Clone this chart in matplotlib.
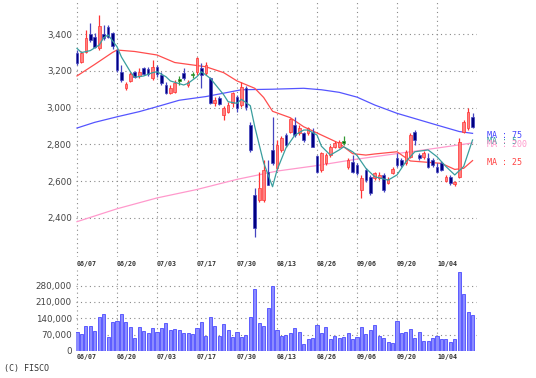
import matplotlib
matplotlib.use("Agg")
import matplotlib.pyplot as plt
from matplotlib import transforms

# daily candles, 90 trading days from 06/07
opens = [3297, 3248, 3302, 3400, 3384, 3324, 3400, 3438, 3405, 3313,
         3193, 3107, 3144, 3193, 3172, 3215, 3210, 3161, 3221, 3177,
         3123, 3079, 3085, 3150, 3188, 3123, 3180, 3193, 3215, 3188,
         3161, 3025, 3052, 2960, 2976, 3025, 3057, 3014, 3107, 2905,
         2525, 2498, 2498, 2650, 2770, 2672, 2770, 2851, 2867, 2905,
         2862, 2862, 2862, 2867, 2737, 2661, 2699, 2742, 2786, 2786,
         2815, 2677, 2704, 2688, 2552, 2661, 2623, 2617, 2617, 2634,
         2590, 2644, 2726, 2715, 2699, 2731, 2867, 2742, 2731, 2726,
         2715, 2677, 2699, 2601, 2623, 2585, 2623, 2867, 2889, 2949]
highs = [3313, 3305, 3422, 3460, 3405, 3503, 3449, 3449, 3411, 3318,
         3232, 3139, 3193, 3199, 3215, 3221, 3221, 3259, 3232, 3193,
         3139, 3123, 3150, 3170, 3215, 3150, 3195, 3275, 3242, 3248,
         3166, 3057, 3063, 3009, 3030, 3085, 3068, 3139, 3118, 2922,
         2563, 2650, 2715, 2715, 2949, 2824, 2846, 2862, 2943, 2949,
         2905, 2867, 2895, 2889, 2742, 2759, 2753, 2797, 2818, 2824,
         2846, 2726, 2742, 2699, 2634, 2672, 2634, 2650, 2650, 2644,
         2623, 2677, 2753, 2726, 2770, 2862, 2878, 2753, 2764, 2753,
         2726, 2699, 2710, 2634, 2634, 2601, 2835, 2933, 2998, 2970]
lows = [3232, 3240, 3297, 3356, 3324, 3313, 3367, 3378, 3318, 3193,
        3139, 3096, 3139, 3161, 3161, 3177, 3172, 3150, 3166, 3123,
        3074, 3074, 3080, 3125, 3150, 3112, 3160, 3177, 3107, 3177,
        3020, 3009, 3014, 2933, 2970, 3003, 2976, 3003, 2987, 2759,
        2297, 2487, 2487, 2579, 2688, 2660, 2759, 2786, 2862, 2840,
        2851, 2813, 2851, 2786, 2644, 2650, 2688, 2731, 2780, 2780,
        2797, 2666, 2644, 2634, 2509, 2595, 2525, 2606, 2606, 2541,
        2585, 2640, 2677, 2677, 2688, 2726, 2797, 2715, 2720, 2672,
        2677, 2644, 2655, 2595, 2579, 2574, 2617, 2862, 2878, 2889]
closes = [3242, 3297, 3378, 3367, 3330, 3443, 3378, 3384, 3335, 3204,
          3150, 3128, 3183, 3166, 3193, 3183, 3183, 3221, 3183, 3134,
          3079, 3107, 3134, 3150, 3161, 3139, 3180, 3270, 3177, 3232,
          3025, 3041, 3020, 2998, 3014, 3079, 2998, 3112, 3003, 2770,
          2346, 2563, 2661, 2579, 2699, 2797, 2835, 2797, 2938, 2851,
          2889, 2824, 2889, 2786, 2650, 2753, 2742, 2786, 2808, 2813,
          2815, 2715, 2650, 2644, 2617, 2606, 2536, 2644, 2634, 2552,
          2612, 2666, 2688, 2688, 2759, 2851, 2824, 2726, 2753, 2677,
          2688, 2650, 2661, 2623, 2590, 2596, 2813, 2922, 2976, 2894]
volumes = [82900, 73000, 108700, 108700, 87200, 144700, 157600, 58800, 125800, 130100,
           157600, 125800, 104400, 54500, 104400, 85900, 75900, 100100, 82900, 97400,
           118900, 90200, 94500, 90200, 75900, 75900, 73000, 97400, 125800, 64400,
           144700, 108700, 64400, 115900, 90200, 58800, 82900, 58800, 68700, 147300,
           266200, 118900, 108700, 183300, 279100, 90200, 64400, 68700, 75900, 97400,
           82900, 30000, 50200, 54500, 111600, 75900, 101700, 50200, 64400, 54500,
           58800, 75900, 50200, 58800, 104400, 73000, 90200, 111600, 64400, 54500,
           37300, 33000, 128800, 78600, 82900, 94500, 57100, 82900, 44200, 44200,
           54500, 64400, 50200, 50200, 37300, 50200, 340500, 244700, 168800, 154600]

date_pos = [0, 9, 18, 27, 36, 45, 54, 63, 72, 81]
date_labels = ["06/07", "06/20", "07/03", "07/17", "07/30",
               "08/13", "08/26", "09/06", "09/20", "10/04"]

# moving averages (day index, value)
ma5_x = [0, 1, 3, 5, 6, 7, 9, 10, 12, 13, 15, 17, 18, 20, 21, 24, 25, 27, 28, 30,
         33, 34, 36, 37, 39, 40, 42, 44, 45, 47, 49, 51, 52, 54, 55, 57, 59, 60, 62,
         63, 65, 67, 70, 72, 74, 76, 79, 81, 83, 85, 87, 88, 89]
ma5_y = [3322, 3299, 3310, 3340, 3380, 3395, 3331, 3275, 3195, 3165, 3172, 3190, 3195,
         3168, 3145, 3123, 3132, 3168, 3195, 3159, 3070, 3032, 3023, 3045, 3010, 2896,
         2700, 2570, 2660, 2780, 2850, 2878, 2878, 2851, 2790, 2742, 2770, 2787, 2760,
         2740, 2670, 2624, 2606, 2634, 2706, 2760, 2770, 2733, 2680, 2634, 2680, 2752, 2824]
ma25_x = [0, 4, 8, 9, 13, 18, 22, 29, 33, 36, 40, 42, 44, 48, 51, 55, 59, 62, 65, 67,
          72, 75, 82, 85, 87, 89]
ma25_y = [3172, 3235, 3300, 3313, 3305, 3286, 3245, 3222, 3190, 3145, 3105, 3055, 2980,
          2945, 2896, 2851, 2806, 2750, 2742, 2748, 2760, 2710, 2697, 2664, 2670, 2712]
ma75_x = [0, 4, 9, 14, 18, 23, 29, 37, 44, 51, 55, 59, 63, 67, 72, 81, 86, 89]
ma75_y = [2889, 2920, 2950, 2978, 3005, 3040, 3060, 3097, 3100, 3105, 3097, 3083, 3057,
          3014, 2969, 2905, 2870, 2860]
ma200_x = [0, 9, 18, 27, 36, 45, 54, 63, 72, 81, 89]
ma200_y = [2380, 2450, 2509, 2555, 2610, 2655, 2685, 2720, 2750, 2780, 2808]

price_ticks = [2400, 2600, 2800, 3000, 3200, 3400]
vol_ticks = [0, 70000, 140000, 210000, 280000]

W, H = 536, 378
fig = plt.figure(figsize=(W / 100, H / 100), dpi=100)
ax = fig.add_axes([76 / W, 1 - 257 / H, 401 / W, 255 / H])
axv = fig.add_axes([76 / W, 1 - 351 / H, 401 / W, 81 / H])

grid_kw = dict(color="#8a8a8a", linestyle=(0, (1, 3)), linewidth=0.8)
lab_col = "#444444"

# price panel
ax.set_xlim(-0.225, 90)
ax.set_ylim(2188, 3574)
ax.set_xticks(date_pos)
ax.set_yticks(price_ticks)
ax.set_yticklabels([f"{v:,}" for v in price_ticks])
ax.grid(True, **grid_kw)
ax.set_axisbelow(True)
ax.tick_params(length=0, labelsize=6.3, colors=lab_col, labelbottom=False, pad=3)
for s in ax.spines.values():
    s.set_visible(False)

ax.plot(ma200_x, ma200_y, color="#ff99cc", lw=0.9, zorder=2)
ax.plot(ma75_x, ma75_y, color="#5555ff", lw=0.9, zorder=2)
ax.plot(ma25_x, ma25_y, color="#ff4d4d", lw=0.9, zorder=2)

for i in range(len(opens)):
    o, h, l, c = opens[i], highs[i], lows[i], closes[i]
    if c > o:
        body, edge = "#ff8080", "#ff3333"
    elif c < o:
        body, edge = "#000080", "#4545c0"
    else:
        body, edge = "#006600", "#339933"
    ax.vlines(i, l, h, color=edge, lw=0.9, zorder=3)
    ax.bar(i, max(abs(c - o), 10), bottom=min(o, c) - (5 if c == o else 0),
           width=0.6, color=body, edgecolor=edge, linewidth=0.5, zorder=4)

ax.plot(ma5_x, ma5_y, color="#3a9e9e", lw=0.9, zorder=5)

# MA labels at the right end of each line
tr = transforms.blended_transform_factory(ax.transAxes, ax.transData)
tr = transforms.offset_copy(tr, fig=fig, y=-2, units="dots")
for txt, vals, col in [("MA : 75", ma75_y, "#4444ff"), ("MA : 5", ma5_y, "#3a9e9e"),
                       ("MA : 200", ma200_y, "#ff99cc"), ("MA : 25", ma25_y, "#ff4444")]:
    ax.text(1.025, vals[-1], txt, transform=tr, color=col, fontsize=6,
            family="DejaVu Sans Mono", va="center", ha="left", clip_on=False)

# volume panel
axv.set_xlim(-0.225, 90)
axv.set_ylim(0, 347000)
axv.bar(range(len(volumes)), volumes, width=0.7, color="#8c8cff",
        edgecolor="#4b4bff", linewidth=0.6, zorder=3)
axv.set_yticks(vol_ticks)
axv.set_yticklabels([f"{v:,}" for v in vol_ticks])
axv.set_xticks(date_pos)
axv.set_xticklabels(date_labels)
axv.grid(True, **grid_kw)
axv.set_axisbelow(True)
axv.tick_params(axis="y", length=0, labelsize=6.3, colors=lab_col, pad=3)
axv.tick_params(axis="x", length=0, labeltop=True, labelbottom=True, pad=2)
for s in axv.spines.values():
    s.set_visible(False)
for t in axv.xaxis.get_major_ticks():
    for lb in (t.label1, t.label2):
        lb.set_ha("left")
        lb.set_fontsize(4.8)
        lb.set_fontweight("bold")
        lb.set_family("DejaVu Sans Mono")
        lb.set_color("#333333")

fig.text(4 / W, 1 - 368 / H, "(C) FISCO", fontsize=6, family="DejaVu Sans Mono",
         color="#333333", va="center", ha="left")

fig.savefig("out.png", dpi=100)
